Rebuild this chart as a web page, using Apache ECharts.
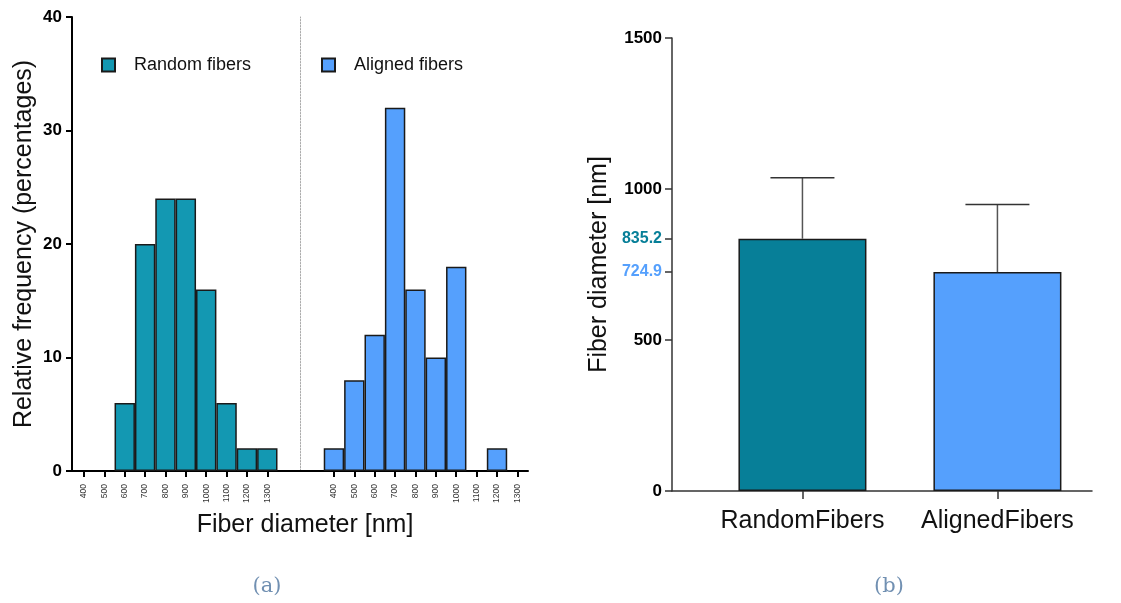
<!DOCTYPE html>
<html>
<head>
<meta charset="utf-8">
<script src="https://cdn.jsdelivr.net/npm/echarts@6/dist/echarts.min.js"></script>
<style>html,body{margin:0;padding:0;background:#fff}#c{width:1121px;height:603px}</style>
</head>
<body>
<div id="c"></div>
<script>
// ---- data ----
const binCenters = [400, 500, 600, 700, 800, 900, 1000, 1100, 1200, 1300];
const randomFreq = [0, 0, 6, 20, 24, 24, 16, 6, 2, 2];
const alignedFreq = [2, 8, 12, 32, 16, 10, 18, 0, 2, 0];
const freqTicks = [0, 10, 20, 30, 40];
const groups = ['RandomFibers', 'AlignedFibers'];
const meanDiam = [835.2, 724.9];
const sdDiam = [202, 224];
const diamTicks = [0, 500, 724.9, 835.2, 1000, 1500];

const cRandom = '#1398b2';
const cRandomDark = '#077f98';
const cAligned = '#55a0fd';
const FONT = 'Liberation Sans, Arial, sans-serif';

const chart = echarts.init(document.getElementById('c'));

function histData(vals) {
  return binCenters.map((b, i) => [b, vals[i]]).filter(d => d[1] > 0);
}

const xHist = (idx, min, max) => ({
  type: 'value', gridIndex: idx, min: min, max: max,
  splitLine: {show: false},
  axisLine: {show: true, onZero: false, lineStyle: {color: '#000', width: 2}},
  axisTick: {show: true, customValues: binCenters, length: 6, lineStyle: {color: '#000', width: 2}},
  axisLabel: {show: true, customValues: binCenters, rotate: 90, fontSize: 8.5, color: '#333', fontFamily: FONT, margin: 13,
    formatter: v => String(v)}
});

const option = {
  animation: false,
  backgroundColor: '#fff',
  title: [
    {text: 'Fiber diameter [nm]', left: 300, top: 508, textAlign: 'center',
     textStyle: {fontSize: 25, fontWeight: 'normal', color: '#111', fontFamily: FONT}},
    {text: '(a)', left: 262, top: 571, textAlign: 'center',
     textStyle: {fontSize: 21, fontWeight: 'normal', color: '#7190b2', fontFamily: 'DejaVu Serif, Liberation Serif, serif'}},
    {text: '(b)', left: 884, top: 571, textAlign: 'center',
     textStyle: {fontSize: 21, fontWeight: 'normal', color: '#7190b2', fontFamily: 'DejaVu Serif, Liberation Serif, serif'}}
  ],
  legend: [
    {data: ['Random fibers'], left: 101, top: 56, padding: 0, itemWidth: 13, itemHeight: 13, icon: 'rect',
     textStyle: {fontSize: 18, color: '#111', fontFamily: FONT, padding: [0, 0, 0, 14]}},
    {data: ['Aligned fibers'], left: 321, top: 56, padding: 0, itemWidth: 13, itemHeight: 13, icon: 'rect',
     textStyle: {fontSize: 18, color: '#111', fontFamily: FONT, padding: [0, 0, 0, 14]}}
  ],
  grid: [
    {left: 72, top: 17, width: 228.5, height: 454},
    {left: 300.5, top: 17, width: 227.5, height: 454},
    {left: 672, top: 38, width: 420, height: 453}
  ],
  xAxis: [
    xHist(0, 341, 1463),
    xHist(1, 236, 1352),
    {
      type: 'value', gridIndex: 2, min: 0.331, max: 2.485,
      splitLine: {show: false},
      axisLine: {show: true, onZero: false, lineStyle: {color: '#333', width: 1.5}},
      axisTick: {show: true, customValues: [1, 2], length: 8, lineStyle: {color: '#333', width: 1.5}},
      axisLabel: {show: true, customValues: [1, 2], fontSize: 25, color: '#111', fontFamily: FONT, margin: 18,
        formatter: v => groups[Math.round(v) - 1] || ''}
    }
  ],
  yAxis: [
    {
      type: 'value', gridIndex: 0, min: 0, max: 40, interval: 10,
      splitLine: {show: false},
      axisLine: {show: true, lineStyle: {color: '#000', width: 2}},
      axisTick: {show: true, length: 6, lineStyle: {color: '#000', width: 2}},
      axisLabel: {fontSize: 17, fontWeight: 'bold', color: '#000', fontFamily: FONT, margin: 10},
      name: 'Relative frequency (percentages)', nameLocation: 'middle', nameGap: 35,
      nameTextStyle: {fontSize: 25, color: '#111', fontFamily: FONT}
    },
    {
      type: 'value', gridIndex: 1, min: 0, max: 40, interval: 10,
      splitLine: {show: false},
      axisLine: {show: true, lineStyle: {color: '#aaa', width: 1, type: [1.5, 1.5]}},
      axisTick: {show: false}, axisLabel: {show: false}
    },
    {
      type: 'value', gridIndex: 2, min: 0, max: 1500,
      splitLine: {show: false},
      axisLine: {show: true, lineStyle: {color: '#333', width: 1.5}},
      axisTick: {show: true, customValues: diamTicks, length: 7, lineStyle: {color: '#333', width: 1.5}},
      axisLabel: {show: true, customValues: diamTicks, fontFamily: FONT, margin: 10,
        formatter: v => {
          if (Math.abs(v - meanDiam[0]) < 1e-6) return '{r|' + v.toFixed(1) + '}';
          if (Math.abs(v - meanDiam[1]) < 1e-6) return '{a|' + v.toFixed(1) + '}';
          return '{k|' + v + '}';
        },
        rich: {
          r: {fontSize: 16, fontWeight: 'bold', color: cRandomDark, fontFamily: FONT},
          a: {fontSize: 16, fontWeight: 'bold', color: cAligned, fontFamily: FONT},
          k: {fontSize: 17, fontWeight: 'bold', color: '#000', fontFamily: FONT}
        }},
      name: 'Fiber diameter [nm]', nameLocation: 'middle', nameGap: 60,
      nameTextStyle: {fontSize: 25, color: '#111', fontFamily: FONT}
    }
  ],
  series: [
    {
      name: 'Random fibers', type: 'bar', xAxisIndex: 0, yAxisIndex: 0,
      data: histData(randomFreq), barWidth: 20.4,
      itemStyle: {color: cRandom, borderColor: '#1a1a1a', borderWidth: 1.5}
    },
    {
      name: 'Aligned fibers', type: 'bar', xAxisIndex: 1, yAxisIndex: 1,
      data: histData(alignedFreq), barWidth: 20.4,
      itemStyle: {color: cAligned, borderColor: '#1a1a1a', borderWidth: 1.5}
    },
    {
      name: 'means', type: 'bar', xAxisIndex: 2, yAxisIndex: 2, barWidth: 128,
      data: groups.map((g, i) => ({value: [i + 1, meanDiam[i]],
        itemStyle: {color: i === 0 ? cRandomDark : cAligned}})),
      itemStyle: {borderColor: '#1a1a1a', borderWidth: 1.5}
    },
    {
      name: 'sd', type: 'custom', xAxisIndex: 2, yAxisIndex: 2, z: 3,
      data: groups.map((g, i) => [i + 1, meanDiam[i], meanDiam[i] + sdDiam[i]]),
      renderItem: function (params, api) {
        const x = api.value(0);
        const p0 = api.coord([x, api.value(1)]);
        const p1 = api.coord([x, api.value(2)]);
        const half = 32;
        return {
          type: 'group',
          children: [
            {type: 'line', shape: {x1: p0[0], y1: p0[1], x2: p1[0], y2: p1[1]}, style: {stroke: '#555', lineWidth: 1.5}},
            {type: 'line', shape: {x1: p1[0] - half, y1: p1[1], x2: p1[0] + half, y2: p1[1]}, style: {stroke: '#333', lineWidth: 1.5}}
          ]
        };
      }
    }
  ]
};
chart.setOption(option);
</script>
</body>
</html>
